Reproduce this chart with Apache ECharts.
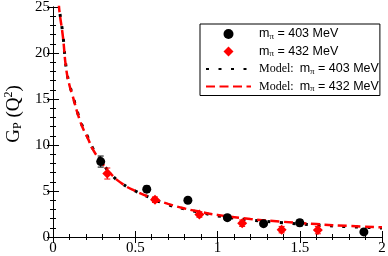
<!DOCTYPE html>
<html><head><meta charset="utf-8">
<script src="https://cdn.jsdelivr.net/npm/echarts@6/dist/echarts.min.js"></script>
<style>html,body{margin:0;padding:0;background:#fff}#c{width:388px;height:256px}</style>
</head><body><div id="c"></div>
<script>
// Lattice data points
var q2Black = [0.29, 0.57, 0.82, 1.06, 1.28, 1.50, 1.89];
var gpBlack = [8.2, 5.2, 4.0, 2.1, 1.45, 1.55, 0.55];
var errBlack = [0.6, 0.35, 0.3, 0.3, 0.25, 0.35, 0.3];
var q2Red = [0.33, 0.62, 0.89, 1.15, 1.39, 1.61];
var gpRed = [6.9, 4.05, 2.45, 1.5, 0.8, 0.75];
var errRed = [0.6, 0.3, 0.3, 0.35, 0.35, 0.4];
// Model curves
var modelQ2 = [0.035, 0.04, 0.06, 0.08, 0.1, 0.12, 0.15, 0.18, 0.21, 0.24, 0.28, 0.35, 0.42, 0.5, 0.6, 0.7, 0.8, 0.9, 1.0, 1.2, 1.4, 1.6, 1.8, 2.0];
var modelBlack = [25.6, 24.6, 22.0, 18.4, 16.6, 15.4, 13.5, 12.0, 10.9, 9.7, 8.6, 6.9, 5.8, 5.0, 4.2, 3.5, 3.05, 2.65, 2.3, 1.85, 1.55, 1.3, 1.12, 0.98];
var modelRed = [25.4, 24.4, 21.8, 18.3, 16.5, 15.3, 13.4, 11.9, 10.8, 9.6, 8.5, 6.9, 5.8, 5.0, 4.25, 3.6, 3.1, 2.72, 2.4, 1.95, 1.65, 1.4, 1.2, 1.06];
var xTicks = [0, 0.5, 1, 1.5, 2];
var yTicks = [0, 5, 10, 15, 20, 25];

function zip(a, b) { return a.map(function (v, i) { return [v, b[i]]; }); }
function zip3(a, b, c) { return a.map(function (v, i) { return [v, b[i], c[i]]; }); }

var serif = 'Liberation Serif';
var sans = 'Liberation Sans';
var chart = echarts.init(document.getElementById('c'), null, {renderer: 'canvas'});

function errRender(color) {
  return function (params, api) {
    var x = api.value(0), y = api.value(1), e = api.value(2);
    var top = api.coord([x, y + e]), bot = api.coord([x, y - e]);
    var w = 3;
    var st = {stroke: color, lineWidth: 1};
    return {type: 'group', children: [
      {type: 'line', shape: {x1: top[0], y1: top[1], x2: bot[0], y2: bot[1]}, style: st},
      {type: 'line', shape: {x1: top[0] - w, y1: top[1], x2: top[0] + w, y2: top[1]}, style: st},
      {type: 'line', shape: {x1: bot[0] - w, y1: bot[1], x2: bot[0] + w, y2: bot[1]}, style: st}
    ]};
  };
}

var richLegend = {
  s: {fontFamily: sans, fontSize: 12.5, color: '#000', lineHeight: 13},
  sub: {fontFamily: serif, fontSize: 9, color: '#000', lineHeight: 8, padding: [5, 0, 0, 0]},
  m: {fontFamily: serif, fontSize: 12, color: '#000', lineHeight: 13}
};
var legendText = {
  'b': '{s|m}{sub|π}{s| = 403 MeV}',
  'r': '{s|m}{sub|π}{s| = 432 MeV}',
  'mb': '{m|Model:  }{s|m}{sub|π}{s| = 403 MeV}',
  'mr': '{m|Model:  }{s|m}{sub|π}{s| = 432 MeV}'
};

var axisCommon = {
  axisLine: {show: true, lineStyle: {color: '#000', width: 1}},
  axisTick: {show: true, inside: true, length: 6, lineStyle: {color: '#000'}},
  minorTick: {show: true, splitNumber: 5, length: 3, lineStyle: {color: '#000'}},
  splitLine: {show: false}
};

chart.setOption({
  animation: false,
  backgroundColor: '#fff',
  grid: {left: 53, right: 6, top: 7, bottom: 19, containLabel: false, outerBoundsMode: 'none'},
  xAxis: [
    Object.assign({type: 'value', min: 0, max: 2, interval: 0.5, position: 'bottom',
      axisLabel: {fontFamily: serif, fontSize: 15, color: '#000', margin: 4,
        formatter: function (v) { return xTicks.indexOf(v) >= 0 ? String(v) : ''; }}}, axisCommon),
    Object.assign({type: 'value', min: 0, max: 2, interval: 0.5, position: 'top', axisLabel: {show: false}}, axisCommon)
  ],
  yAxis: [
    Object.assign({type: 'value', min: 0, max: 25, interval: 5, position: 'left',
      name: '{g|G}{sub|P}{g| (Q}{sup|2}{g|)}', nameLocation: 'middle', nameGap: 28,
      nameTextStyle: {padding: [0, 0, 0, 16], rich: {
        g: {fontFamily: serif, fontSize: 19, color: '#000', lineHeight: 19},
        sub: {fontFamily: serif, fontSize: 12, color: '#000', lineHeight: 10, padding: [9, 0, 0, 0]},
        sup: {fontFamily: serif, fontSize: 12, color: '#000', lineHeight: 10, padding: [0, 0, 9, 0]}
      }},
      axisLabel: {fontFamily: serif, fontSize: 15, color: '#000', margin: 3,
        formatter: function (v) { return yTicks.indexOf(v) >= 0 ? String(v) : ''; }}}, axisCommon),
    Object.assign({type: 'value', min: 0, max: 25, interval: 5, position: 'right', axisLabel: {show: false}}, axisCommon)
  ],
  legend: {
    orient: 'vertical', left: 200, top: 24,
    itemWidth: 45, itemHeight: 10, itemGap: 3.5,
    padding: [3, 1, 2, 5],
    borderColor: '#000', borderWidth: 1, backgroundColor: '#fff',
    data: [
      {name: 'b', icon: 'circle'},
      {name: 'r', icon: 'path://M0,-5L5,0L0,5L-5,0Z'},
      {name: 'mb', itemStyle: {opacity: 0}},
      {name: 'mr', itemStyle: {opacity: 0}}
    ],
    symbolKeepAspect: true,
    formatter: function (n) { return legendText[n]; },
    textStyle: {rich: richLegend, padding: [0, 0, 0, 3]}
  },
  series: [
    {name: 'mb', type: 'line', data: zip(modelQ2, modelBlack), showSymbol: false, symbol: 'none', smooth: true,
      clip: true, lineStyle: {color: '#000', width: 3, type: [3, 9.5]}, itemStyle: {color: '#000'}, z: 2},
    {name: 'mr', type: 'line', data: zip(modelQ2, modelRed), showSymbol: false, symbol: 'none', smooth: true,
      clip: true, lineStyle: {color: '#ff0000', width: 2.5, type: [9, 4.5]}, itemStyle: {color: '#ff0000'}, z: 3},
    {name: 'eb', type: 'custom', data: zip3(q2Black, gpBlack, errBlack), renderItem: errRender('#000'), z: 4},
    {name: 'er', type: 'custom', data: zip3(q2Red, gpRed, errRed), renderItem: errRender('#ff0000'), z: 4},
    {name: 'b', type: 'scatter', data: zip(q2Black, gpBlack), symbol: 'circle', symbolSize: 9,
      itemStyle: {color: '#000', opacity: 1}, z: 5},
    {name: 'r', type: 'scatter', data: zip(q2Red, gpRed), symbol: 'diamond', symbolSize: 10,
      itemStyle: {color: '#ff0000', opacity: 1}, z: 5}
  ]
});
</script></body></html>
